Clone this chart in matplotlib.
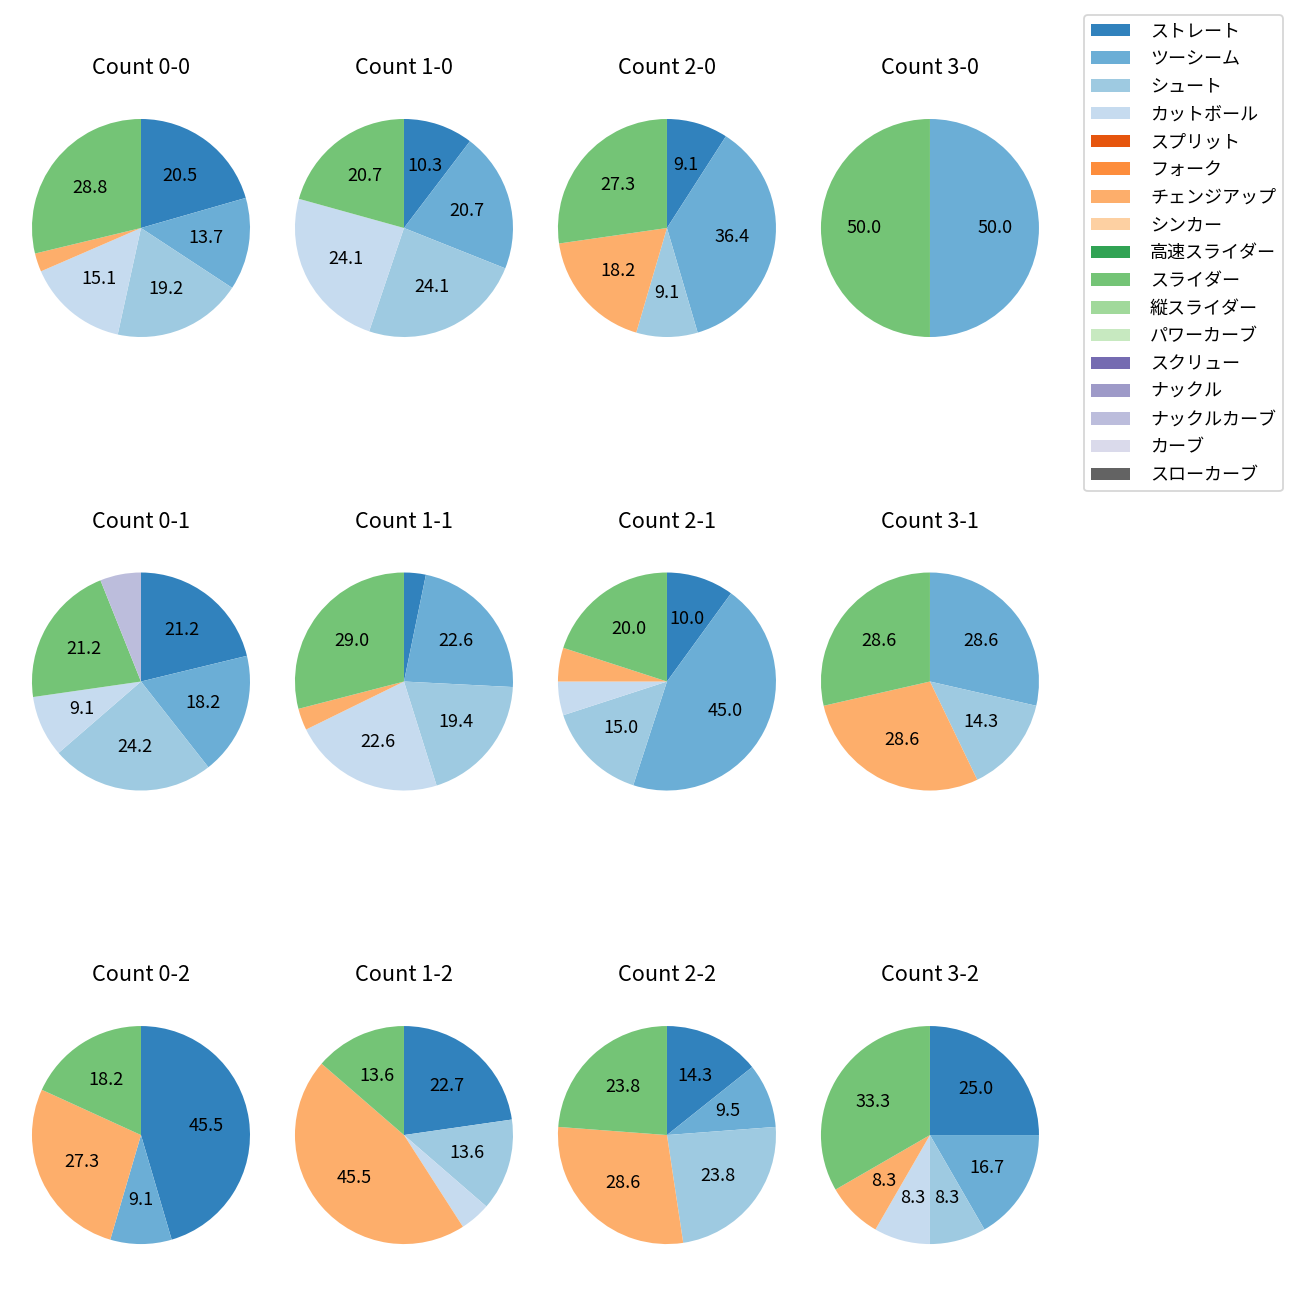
import matplotlib
matplotlib.use("Agg")
from matplotlib import pyplot as plt
from matplotlib.patches import Patch

plt.rcParams['font.family'] = ['Noto Sans CJK JP', 'DejaVu Sans']

# 球種 (凡例の順)
pitch_types = ["ストレート", "ツーシーム", "シュート", "カットボール", "スプリット",
               "フォーク", "チェンジアップ", "シンカー", "高速スライダー", "スライダー",
               "縦スライダー", "パワーカーブ", "スクリュー", "ナックル", "ナックルカーブ",
               "カーブ", "スローカーブ"]
colors = ["#3182bd", "#6baed6", "#9ecae1", "#c6dbef", "#e6550d",
          "#fd8d3c", "#fdae6b", "#fdd0a2", "#31a354", "#74c476",
          "#a1d99b", "#c7e9c0", "#756bb1", "#9e9ac8", "#bcbddc",
          "#dadaeb", "#636363"]

counts = ["0-0", "1-0", "2-0", "3-0",
          "0-1", "1-1", "2-1", "3-1",
          "0-2", "1-2", "2-2", "3-2"]

# 各カウントでの投球数
straight   = [15, 3, 1, 0, 7, 1, 2, 0, 5, 5, 3, 3]
twoseam    = [10, 6, 4, 1, 6, 7, 9, 2, 1, 0, 2, 2]
shoot      = [14, 7, 1, 0, 8, 6, 3, 1, 0, 3, 5, 1]
cutter     = [11, 7, 0, 0, 3, 7, 1, 0, 0, 1, 0, 1]
changeup   = [2, 0, 2, 0, 0, 1, 1, 2, 3, 10, 6, 1]
slider     = [21, 6, 3, 1, 7, 9, 4, 2, 2, 3, 5, 4]
knucklecrv = [0, 0, 0, 0, 2, 0, 0, 0, 0, 0, 0, 0]

series = {
    "ストレート": straight,
    "ツーシーム": twoseam,
    "シュート": shoot,
    "カットボール": cutter,
    "チェンジアップ": changeup,
    "スライダー": slider,
    "ナックルカーブ": knucklecrv,
}

fig, axes = plt.subplots(3, 4, figsize=(10, 10), dpi=130)
fig.subplots_adjust(left=0.0073, right=0.8165, top=0.9346, bottom=0.0169,
                    wspace=0, hspace=0.586)


def fmt(p):
    return f"{p:.1f}" if p > 7 else ""


for i, c in enumerate(counts):
    ax = axes[i // 4][i % 4]
    vals, cols = [], []
    for name, col in zip(pitch_types, colors):
        if name in series and series[name][i] > 0:
            vals.append(series[name][i])
            cols.append(col)
    ax.pie(vals, colors=cols, startangle=90, counterclock=False,
           autopct=fmt, radius=0.953, textprops={"fontsize": 10})
    ax.set_aspect("equal", adjustable="datalim")
    ax.set_title(f"Count {c}", fontsize=12)

handles = [Patch(facecolor=col, label=name) for name, col in zip(pitch_types, colors)]
fig.legend(handles=handles, loc="upper right", bbox_to_anchor=(0.987, 0.9885),
           borderaxespad=0, fontsize=10, handletextpad=1.1, handlelength=2.15,
           labelspacing=0.54)

plt.savefig("out.png")
